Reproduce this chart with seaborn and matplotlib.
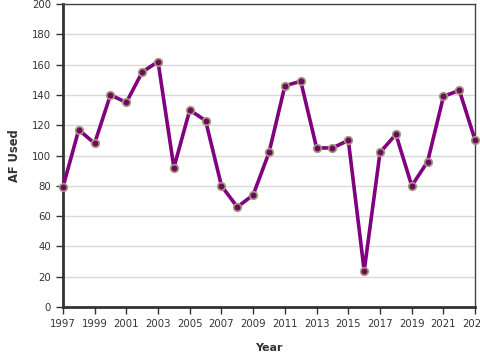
import matplotlib
matplotlib.use("Agg")
import matplotlib.pyplot as plt
import seaborn as sns
import pandas as pd

# values
years = list(range(1997, 2024))
af_used = [79, 117, 108, 140, 135, 155, 162, 92, 130, 123, 80, 66, 74, 102,
           146, 149, 105, 105, 110, 24, 102, 114, 80, 96, 139, 143, 110]
xticks = list(range(1997, 2024, 2))
yticks = list(range(0, 201, 20))

df = pd.DataFrame({"Year": years, "AF Used": af_used})

sns.set_style("white")
plt.rcParams["font.family"] = ["DejaVu Sans"]

fig = plt.figure(figsize=(4.8, 3.6), dpi=100)
ax = fig.add_axes([0.131, 0.147, 0.859, 0.842])

ax.yaxis.grid(True, color="#d9d9d9", linewidth=1)
ax.set_axisbelow(True)

sns.lineplot(data=df, x="Year", y="AF Used", ax=ax, color="#800080",
             linewidth=2.6, marker="o", markersize=5.5,
             markerfacecolor="#6b0a5e", markeredgecolor="#a89a7a",
             markeredgewidth=1.2, zorder=3, clip_on=False)

ax.set_xlim(1997, 2023)
ax.set_ylim(0, 200)
ax.set_xticks(xticks)
ax.set_yticks(yticks)

ax.tick_params(axis="both", direction="out", length=5, width=1,
               color="#333333", labelsize=7.3, labelcolor="#333333",
               bottom=True, left=True)

for side in ["left", "bottom"]:
    ax.spines[side].set_linewidth(2)
    ax.spines[side].set_color("#333333")
for side in ["top", "right"]:
    ax.spines[side].set_linewidth(1)
    ax.spines[side].set_color("#444444")

ax.set_xlabel("Year", fontsize=8, fontweight="bold", color="#333333", labelpad=10)
ax.set_ylabel("AF Used", fontsize=8.3, fontweight="bold", color="#333333", labelpad=8)

fig.savefig("out.png", dpi=100)
